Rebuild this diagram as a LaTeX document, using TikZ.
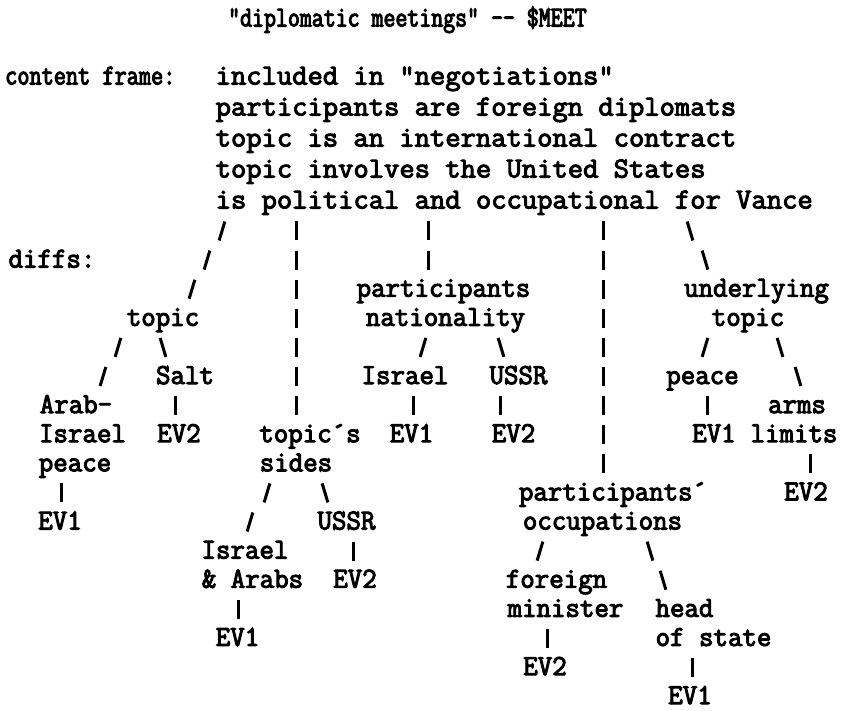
\documentclass[tikz,border=0pt]{standalone}
\usepackage{fontspec}
\usetikzlibrary{calc}
% typewriter faces: tree pitch, content-line pitch, and the narrow pitches
\newfontfamily\twA{Latin Modern Mono}[FakeStretch=0.969, FakeBold=3.5]
\newfontfamily\twB{Latin Modern Mono}[FakeStretch=1.025, FakeBold=3.5]
\newfontfamily\twC{Latin Modern Mono}[FakeStretch=0.814, FakeBold=3.5]
\newfontfamily\twD{Latin Modern Mono}[FakeStretch=0.8, FakeBold=3.5]
\newcommand\treefont{\twA\fontsize{29pt}{29pt}\selectfont}
\newcommand\framefont{\twB\fontsize{29pt}{29pt}\selectfont}
\newcommand\labelfont{\twC\fontsize{29pt}{29pt}\selectfont}
\newcommand\headfont{\twD\fontsize{29pt}{29pt}\selectfont}

% vertical position of tree row #1
\newcommand\ry[1]{231+29.1*#1}

\tikzset{
  lbl/.style={anchor=base, yshift=-7.5pt, inner sep=0pt, font=\treefont},
  cline/.style={lbl, anchor=base west, font=\framefont},
  flabel/.style={lbl, anchor=base west, font=\labelfont},
  head/.style={lbl, anchor=base west, font=\headfont},
  link/.style={line width=3pt, black},
}

% a run of typed stroke glyphs from #1 to #2: #3 strokes, slant #4
% (+ for /, - for \, 0 for |)
\newcommand\strokes[4]{%
  \foreach \k in {1,...,#3}{%
    \ifnum#3=1 \def\gpos{0}\else\pgfmathsetmacro\gpos{(\k-1)/(#3-1)}\fi
    \draw[link] ($(#1)!\gpos!(#2)$) ++({#4*9.5},-9.5) -- ++({-2*#4*9.5},19);
  }}

\begin{document}
\begin{tikzpicture}[x=1pt, y=-1pt]
\useasboundingbox[fill=white] (0,0) rectangle (845,711);

% heading and content frame
\node[head] (title) at (228,19) {"diplomatic meetings" -{}- \$MEET};
\node[flabel] (cf) at (5,77) {content frame:};
\node[cline] (f1) at (215.5,77) {included in "negotiations"};
\node[cline] (f2) at (215.5,108) {participants are foreign diplomats};
\node[cline] (f3) at (215.5,139) {topic is an international contract};
\node[cline] (f4) at (215.5,170) {topic involves the United States};
\node[cline] (f5) at (215.5,201) {is political and occupational for Vance};

% differences tree
\node[lbl] (diffs) at (52,{\ry{1}}) {diffs:};
\node[lbl] (pn1) at (443.5,{\ry{2}}) {participants};
\node[lbl] (pn2) at (445.5,{\ry{3}}) {nationality};
\node[lbl] (ut1) at (756.5,{\ry{2}}) {underlying};
\node[lbl] (ut2) at (748,{\ry{3}}) {topic};
\node[lbl] (tp) at (163,{\ry{3}}) {topic};
\node[lbl] (salt) at (185,{\ry{5}}) {Salt};
\node[lbl] (isr) at (405,{\ry{5}}) {Israel};
\node[lbl] (ussr) at (518.5,{\ry{5}}) {USSR};
\node[lbl] (pc) at (702.5,{\ry{5}}) {peace};
\node[lbl] (ar1) at (76,{\ry{6}}) {Arab-};
\node[lbl] (arms1) at (797,{\ry{6}}) {arms};
\node[lbl] (ar2) at (82.5,{\ry{7}}) {Israel};
\node[lbl] (evsalt) at (179,{\ry{7}}) {EV2};
\node[lbl] (ts1) at (310,{\ry{7}}) {topic´s};
\node[lbl] (evisr) at (411.5,{\ry{7}}) {EV1};
\node[lbl] (evussr) at (513.5,{\ry{7}}) {EV2};
\node[lbl] (evpc) at (714,{\ry{7}}) {EV1};
\node[lbl] (arms2) at (794,{\ry{7}}) {limits};
\node[lbl] (ar3) at (75,{\ry{8}}) {peace};
\node[lbl] (ts2) at (296,{\ry{8}}) {sides};
\node[lbl] (po1) at (613,{\ry{9}}) {participants´};
\node[lbl] (evarms) at (806,{\ry{9}}) {EV2};
\node[lbl] (evar) at (60,{\ry{10}}) {EV1};
\node[lbl] (sussr) at (346.5,{\ry{10}}) {USSR};
\node[lbl] (po2) at (602.5,{\ry{10}}) {occupations};
\node[lbl] (ia1) at (245,{\ry{11}}) {Israel};
\node[lbl] (ia2) at (252.5,{\ry{12}}) {\& Arabs};
\node[lbl] (evsussr) at (355,{\ry{12}}) {EV2};
\node[lbl] (fm1) at (556.5,{\ry{12}}) {foreign};
\node[lbl] (fm2) at (565.5,{\ry{13}}) {minister};
\node[lbl] (hs1) at (684.5,{\ry{13}}) {head};
\node[lbl] (evia) at (237.5,{\ry{14}}) {EV1};
\node[lbl] (hs2) at (713.5,{\ry{14}}) {of state};
\node[lbl] (evfm) at (545,{\ry{15}}) {EV2};
\node[lbl] (evhs) at (690,{\ry{16}}) {EV1};

% first and last stroke of every branch
\coordinate (a1) at (222,{\ry{0}});   \coordinate (a2) at (192,{\ry{2}});
\coordinate (b1) at (296,{\ry{0}});   \coordinate (b2) at (296,{\ry{6}});
\coordinate (c1) at (428,{\ry{0}});   \coordinate (c2) at (428,{\ry{1}});
\coordinate (d1) at (603,{\ry{0}});   \coordinate (d2) at (603,{\ry{8}});
\coordinate (e1) at (690,{\ry{0}});   \coordinate (e2) at (705,{\ry{1}});
\coordinate (g1) at (118,{\ry{4}});   \coordinate (g2) at (103,{\ry{5}});
\coordinate (h1) at (163,{\ry{4}});
\coordinate (i1) at (175,{\ry{6}});
\coordinate (j1) at (423,{\ry{4}});
\coordinate (k1) at (501,{\ry{4}});
\coordinate (l1) at (413,{\ry{6}});
\coordinate (m1) at (500,{\ry{6}});
\coordinate (n1) at (705,{\ry{4}});
\coordinate (o1) at (780,{\ry{4}});   \coordinate (o2) at (798,{\ry{5}});
\coordinate (p1) at (707,{\ry{6}});
\coordinate (q1) at (810,{\ry{8}});
\coordinate (r1) at (61,{\ry{9}});
\coordinate (s1) at (267,{\ry{9}});   \coordinate (s2) at (250,{\ry{10}});
\coordinate (t1) at (325,{\ry{9}});
\coordinate (u1) at (353,{\ry{11}});
\coordinate (v1) at (238,{\ry{13}});
\coordinate (w1) at (540,{\ry{11}});
\coordinate (x1) at (650,{\ry{11}});   \coordinate (x2) at (663,{\ry{12}});
\coordinate (y1) at (547,{\ry{14}});
\coordinate (z1) at (692,{\ry{15}});

\strokes{a1}{a2}{3}{0.3}
\strokes{b1}{b2}{7}{0}
\strokes{c1}{c2}{2}{0}
\strokes{d1}{d2}{9}{0}
\strokes{e1}{e2}{2}{-0.3}
\strokes{g1}{g2}{2}{0.3}
\strokes{h1}{h1}{1}{-0.3}
\strokes{i1}{i1}{1}{0}
\strokes{j1}{j1}{1}{0.3}
\strokes{k1}{k1}{1}{-0.3}
\strokes{l1}{l1}{1}{0}
\strokes{m1}{m1}{1}{0}
\strokes{n1}{n1}{1}{0.3}
\strokes{o1}{o2}{2}{-0.3}
\strokes{p1}{p1}{1}{0}
\strokes{q1}{q1}{1}{0}
\strokes{r1}{r1}{1}{0}
\strokes{s1}{s2}{2}{0.3}
\strokes{t1}{t1}{1}{-0.3}
\strokes{u1}{u1}{1}{0}
\strokes{v1}{v1}{1}{0}
\strokes{w1}{w1}{1}{0.3}
\strokes{x1}{x2}{2}{-0.3}
\strokes{y1}{y1}{1}{0}
\strokes{z1}{z1}{1}{0}
\end{tikzpicture}
\end{document}
